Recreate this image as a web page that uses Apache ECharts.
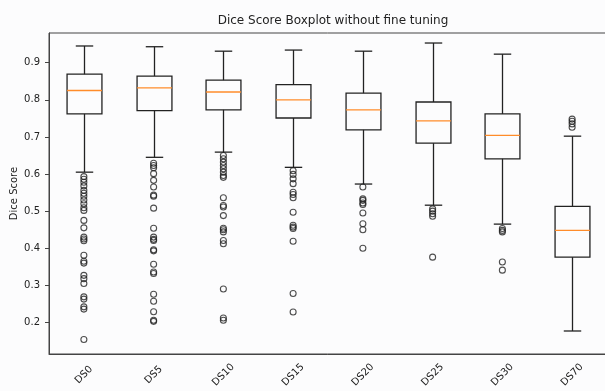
<!DOCTYPE html>
<html>
<head>
<meta charset="utf-8">
<script src="https://cdn.jsdelivr.net/npm/echarts@6/dist/echarts.min.js"></script>
<style>
  html, body { margin: 0; padding: 0; background: #fcfcfd; }
  #chart { width: 605px; height: 391px; }
</style>
</head>
<body>
<div id="chart"></div>
<script>
// categories and box statistics
var categories = ['DS0', 'DS5', 'DS10', 'DS15', 'DS20', 'DS25', 'DS30', 'DS70'];
var whiskerLow = [0.605, 0.645, 0.659, 0.618, 0.573, 0.516, 0.465, 0.177];
var q1 = [0.762, 0.771, 0.773, 0.751, 0.719, 0.683, 0.641, 0.376];
var median = [0.825, 0.832, 0.821, 0.800, 0.773, 0.743, 0.704, 0.448];
var q3 = [0.869, 0.864, 0.853, 0.841, 0.818, 0.794, 0.762, 0.513];
var whiskerHigh = [0.945, 0.943, 0.931, 0.934, 0.931, 0.953, 0.923, 0.702];
var yTicks = [0.2, 0.3, 0.4, 0.5, 0.6, 0.7, 0.8, 0.9];

// fliers per category
var fliers = [
  [0.593, 0.586, 0.578, 0.568, 0.556, 0.548, 0.540, 0.530, 0.520, 0.509, 0.502, 0.475, 0.455, 0.430, 0.425, 0.420, 0.381, 0.365, 0.360, 0.327, 0.318, 0.305, 0.269, 0.263, 0.242, 0.236, 0.154],
  [0.629, 0.623, 0.617, 0.601, 0.583, 0.565, 0.543, 0.540, 0.508, 0.454, 0.430, 0.424, 0.421, 0.396, 0.393, 0.357, 0.336, 0.332, 0.276, 0.257, 0.229, 0.206, 0.203],
  [0.650, 0.641, 0.632, 0.623, 0.614, 0.605, 0.596, 0.591, 0.536, 0.515, 0.511, 0.488, 0.454, 0.450, 0.444, 0.421, 0.412, 0.290, 0.212, 0.206],
  [0.609, 0.599, 0.587, 0.574, 0.551, 0.545, 0.536, 0.497, 0.462, 0.457, 0.453, 0.419, 0.278, 0.228],
  [0.565, 0.533, 0.529, 0.522, 0.518, 0.495, 0.466, 0.450, 0.400],
  [0.506, 0.500, 0.493, 0.486, 0.376],
  [0.453, 0.448, 0.444, 0.363, 0.341],
  [0.748, 0.742, 0.735, 0.726]
];

var boxData = categories.map(function (c, i) {
  return [i, whiskerLow[i], q1[i], median[i], q3[i], whiskerHigh[i]];
});
var flierData = [];
fliers.forEach(function (list, i) {
  list.forEach(function (v) { flierData.push([i, v]); });
});

// matplotlib style box: half width caps, orange median
function renderBox(params, api) {
  var i = api.value(0);
  var lo = api.coord([i, api.value(1)]);
  var b1 = api.coord([i, api.value(2)]);
  var md = api.coord([i, api.value(3)]);
  var b3 = api.coord([i, api.value(4)]);
  var hi = api.coord([i, api.value(5)]);
  var bw = api.size([1, 0])[0] * 0.5;
  var cw = bw / 2;
  var cx = Math.round(lo[0]) + 0.5;
  var ls = { stroke: '#222', lineWidth: 1.3, fill: null };
  return {
    type: 'group',
    children: [
      { type: 'line', shape: { x1: cx, y1: hi[1], x2: cx, y2: b3[1] }, style: ls },
      { type: 'line', shape: { x1: cx, y1: b1[1], x2: cx, y2: lo[1] }, style: ls },
      { type: 'line', shape: { x1: cx - cw / 2, y1: hi[1], x2: cx + cw / 2, y2: hi[1] }, style: ls },
      { type: 'line', shape: { x1: cx - cw / 2, y1: lo[1], x2: cx + cw / 2, y2: lo[1] }, style: ls },
      { type: 'rect', shape: { x: cx - bw / 2, y: b3[1], width: bw, height: b1[1] - b3[1] },
        style: { stroke: '#222', lineWidth: 1.3, fill: 'rgba(0,0,0,0)' } },
      { type: 'line', shape: { x1: cx - bw / 2, y1: md[1], x2: cx + bw / 2, y2: md[1] },
        style: { stroke: '#ff8c2a', lineWidth: 1.3 } }
    ]
  };
}

var chart = echarts.init(document.getElementById('chart'));
chart.setOption({
  backgroundColor: '#fcfcfd',
  animation: false,
  title: {
    text: 'Dice Score Boxplot without fine tuning',
    left: 328,
    top: 10,
    textAlign: 'center',
    textStyle: { fontFamily: 'DejaVu Sans', fontSize: 12, fontWeight: 'normal', color: '#222' }
  },
  grid: {
    left: 49, right: -2, top: 33, bottom: 37,
    containLabel: false,
    outerBoundsMode: 'none',
    show: true, borderColor: '#444', borderWidth: 1
  },
  xAxis: {
    type: 'category',
    data: categories,
    boundaryGap: true,
    axisLine: { lineStyle: { color: '#444' } },
    axisTick: { alignWithLabel: true, length: 4, lineStyle: { color: '#444' } },
    axisLabel: {
      rotate: 45, align: 'center', verticalAlign: 'middle', margin: 21,
      fontFamily: 'DejaVu Sans', fontSize: 10, color: '#222'
    },
    splitLine: { show: false }
  },
  yAxis: {
    type: 'value',
    min: 0.115,
    max: 0.98,
    name: 'Dice Score',
    nameLocation: 'middle',
    nameGap: 30,
    nameMoveOverlap: false,
    nameTextStyle: { fontFamily: 'DejaVu Sans', fontSize: 10, color: '#222' },
    axisLine: { show: true, lineStyle: { color: '#444' } },
    axisTick: { show: true, length: 4, customValues: yTicks, lineStyle: { color: '#444' } },
    axisLabel: {
      customValues: yTicks, margin: 9,
      fontFamily: 'DejaVu Sans', fontSize: 10, color: '#222',
      formatter: function (v) { return v.toFixed(1); }
    },
    splitLine: { show: false }
  },
  series: [
    {
      type: 'custom',
      renderItem: renderBox,
      data: boxData,
      encode: { x: 0, y: [1, 2, 3, 4, 5] },
      z: 2
    },
    {
      type: 'scatter',
      data: flierData,
      symbol: 'circle',
      symbolSize: 6,
      itemStyle: { color: 'rgba(0,0,0,0)', borderColor: '#222', borderWidth: 1.1 },
      z: 3
    }
  ]
});
</script>
</body>
</html>
